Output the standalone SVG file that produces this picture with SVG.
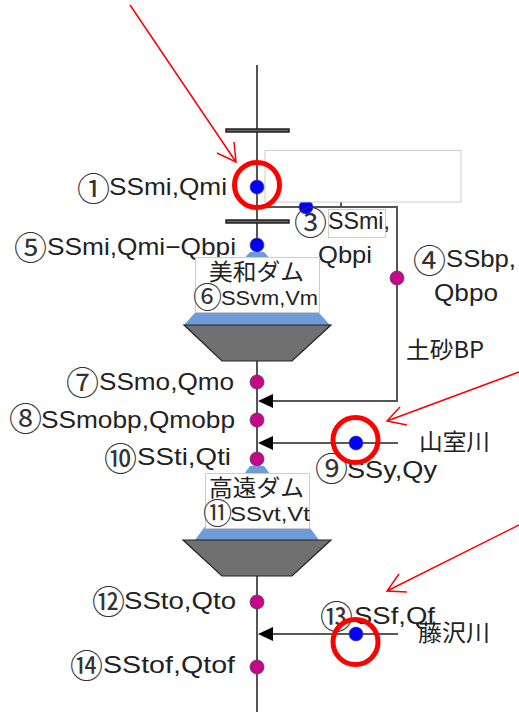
<svg xmlns="http://www.w3.org/2000/svg" width="519" height="721" viewBox="0 0 519 721">
<style>
text{font-family:"Liberation Sans","Noto Sans CJK JP",sans-serif;font-size:24px;fill:#222}
.j{font-family:"Noto Sans CJK JP",sans-serif;font-size:23px}
.c{font-family:"Noto Sans CJK JP",sans-serif;font-size:33px;fill:#333}
.cs{font-family:"Noto Sans CJK JP",sans-serif;font-size:29px;fill:#333}
.s{font-size:20px}
.ln{fill:none;stroke:#555;stroke-width:2}
.blk{fill:none;stroke:#222;stroke-width:1.5}
.bar{fill:#666;stroke:#222;stroke-width:1.5}
.blue{fill:#00f;stroke:#445;stroke-width:.6}
.mag{fill:#c8068c;stroke:#444;stroke-width:.8}
.ring{fill:none;stroke:#f00;stroke-width:5}
.red{fill:none;stroke:#f00;stroke-width:1.5}
.wbox{fill:#fff;stroke:#ccc;stroke-width:1}
.water{fill:#6f9bd8}
.body{fill:#707070;stroke:#222;stroke-width:1.2}
</style>
<g id="connectors">
<path class="ln" d="M257 65V712"/>
<path class="ln" d="M257 207H397V401H273"/>
<path d="M341 202V207" class="ln"/>
<path class="blk" d="M398 443H273"/>
<path class="blk" d="M398 634H273"/>
<path d="M258 401L273 394V408Z" fill="#000"/>
<path d="M258 443L273 436V450Z" fill="#000"/>
<path d="M258 634L273 627V641Z" fill="#000"/>
</g>
<g id="bar-1"><rect class="bar" x="226" y="129" width="63" height="3"/></g>
<g id="bar-2"><rect class="bar" x="226" y="220" width="63" height="3"/></g>
<g id="node-3-dot"><circle class="blue" cx="306" cy="207" r="7"/></g>
<rect id="blank-box" class="wbox" x="265" y="150.500" width="196" height="51.500"/>
<g id="node-1"><circle class="blue" cx="257" cy="187" r="7"/><text><tspan class="c" x="77" y="201">①</tspan><tspan x="109" y="195" textLength="118" lengthAdjust="spacingAndGlyphs">SSmi,Qmi</tspan></text></g>
<g id="node-3"><rect class="wbox" x="328.500" y="209.500" width="57" height="28"/><text><tspan class="c" x="294" y="235">③</tspan><tspan x="328" y="229" textLength="62" lengthAdjust="spacingAndGlyphs">SSmi,</tspan></text><text x="318" y="263" textLength="54" lengthAdjust="spacingAndGlyphs">Qbpi</text></g>
<g id="node-4"><circle class="mag" cx="397" cy="278" r="7"/><text><tspan class="c" x="413" y="273">④</tspan><tspan x="446" y="267" textLength="70" lengthAdjust="spacingAndGlyphs">SSbp,</tspan></text><text x="434" y="301" textLength="64" lengthAdjust="spacingAndGlyphs">Qbpo</text></g>
<g id="label-bp"><text class="j" x="406" y="358" textLength="78" lengthAdjust="spacingAndGlyphs">土砂BP</text></g>
<g id="node-5"><circle class="blue" cx="257" cy="245" r="7"/><text><tspan class="c" x="14" y="260">⑤</tspan><tspan x="47" y="255" textLength="189" lengthAdjust="spacingAndGlyphs">SSmi,Qmi−Qbpi</tspan></text></g>
<g id="dam-miwa">
<path class="water" d="M250 252H264L330 325H184Z"/>
<path class="body" d="M184 325H331L292 361H222Z"/>
<rect class="wbox" x="195.500" y="257.500" width="124" height="55"/>
<text class="j" x="209" y="280" textLength="95" lengthAdjust="spacingAndGlyphs">美和ダム</text>
<text class="s"><tspan class="cs" x="193" y="308">⑥</tspan><tspan x="221" y="305" textLength="97" lengthAdjust="spacingAndGlyphs">SSvm,Vm</tspan></text>
</g>
<g id="node-7"><circle class="mag" cx="257" cy="382" r="7"/><text><tspan class="c" x="66" y="395">⑦</tspan><tspan x="99" y="390" textLength="135" lengthAdjust="spacingAndGlyphs">SSmo,Qmo</tspan></text></g>
<g id="node-8"><circle class="mag" cx="257" cy="420" r="7"/><text><tspan class="c" x="9" y="431">⑧</tspan><tspan x="41" y="428" textLength="194" lengthAdjust="spacingAndGlyphs">SSmobp,Qmobp</tspan></text></g>
<g id="node-10"><circle class="mag" cx="257" cy="459" r="7"/><text><tspan class="c" x="104" y="471">⑩</tspan><tspan x="137" y="465" textLength="94" lengthAdjust="spacingAndGlyphs">SSti,Qti</tspan></text></g>
<g id="node-9"><circle class="blue" cx="356" cy="443" r="7"/><text><tspan class="c" x="315" y="481">⑨</tspan><tspan x="347" y="478" textLength="90" lengthAdjust="spacingAndGlyphs">SSy,Qy</tspan></text></g>
<g id="label-yamamuro"><text class="j" x="419" y="450" textLength="71" lengthAdjust="spacingAndGlyphs">山室川</text></g>
<g id="dam-takato">
<path class="water" d="M250 466H264L319 540H195Z"/>
<path class="body" d="M183 540H331L292 576H222Z"/>
<rect class="wbox" x="205.500" y="473.500" width="104" height="55"/>
<text class="j" x="209" y="496" textLength="95" lengthAdjust="spacingAndGlyphs">高遠ダム</text>
<text class="s"><tspan class="cs" x="203" y="524">⑪</tspan><tspan x="230" y="521" textLength="80" lengthAdjust="spacingAndGlyphs">SSvt,Vt</tspan></text>
</g>
<g id="node-12"><circle class="mag" cx="257" cy="602" r="7"/><text><tspan class="c" x="92" y="614">⑫</tspan><tspan x="124" y="609" textLength="112" lengthAdjust="spacingAndGlyphs">SSto,Qto</tspan></text></g>
<g id="node-13"><circle class="blue" cx="356" cy="634" r="7"/><text><tspan class="c" x="320" y="629">⑬</tspan><tspan x="354" y="624" textLength="81" lengthAdjust="spacingAndGlyphs">SSf,Qf</tspan></text></g>
<g id="label-fujisawa"><text class="j" x="418" y="641" textLength="72" lengthAdjust="spacingAndGlyphs">藤沢川</text></g>
<g id="node-14"><circle class="mag" cx="257" cy="667" r="7"/><text><tspan class="c" x="70" y="678">⑭</tspan><tspan x="103" y="673" textLength="132" lengthAdjust="spacingAndGlyphs">SStof,Qtof</tspan></text></g>
<g id="highlights">
<circle class="ring" cx="257" cy="185" r="22.500"/>
<circle class="ring" cx="355.500" cy="440" r="22.500"/>
<circle class="ring" cx="355.500" cy="642" r="22.500"/>
<path class="red" d="M130 5L236 162M217 153L236 162L234 142"/>
<path class="red" d="M519 372L387 421M400 407L387 421L407 425"/>
<path class="red" d="M519 525L387 591M399 574L387 591L407 592"/>
</g>
</svg>
